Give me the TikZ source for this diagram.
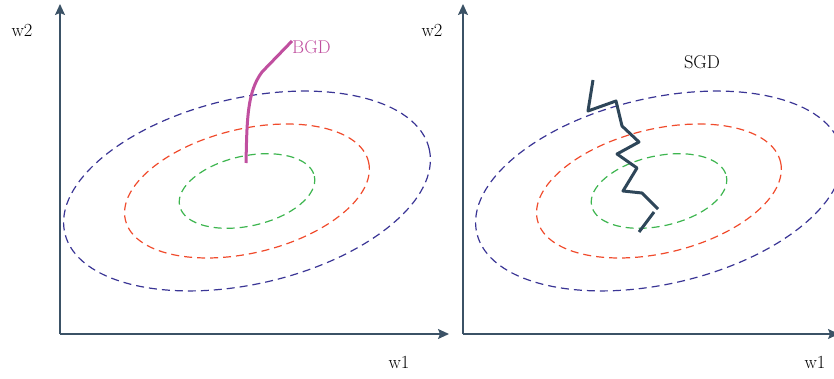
\documentclass[tikz,border=0pt]{standalone}
\usepackage{xcolor}
\usepackage{tikz}
\usetikzlibrary{arrows.meta,positioning}
\definecolor{gdaxis}{HTML}{3B5266}
\definecolor{gdpath}{HTML}{2E4659}
\definecolor{gdblue}{HTML}{3A3595}
\definecolor{gdred}{HTML}{F04B2C}
\definecolor{gdgreen}{HTML}{3DB54F}
\definecolor{gdmagenta}{HTML}{C04F9F}
\tikzstyle{axis} = [-{Stealth[length=11pt,width=10pt,inset=2pt]}, line width=1.4pt, gdaxis]
\tikzstyle{contour} = [dash pattern=on 8pt off 5pt, line width=1.2pt]
\tikzstyle{lbl} = [font=\fontsize{18.5}{20}\selectfont, inner sep=0pt]

\begin{document}
\begin{tikzpicture}[x=1pt,y=-1pt]
\useasboundingbox (0,0) rectangle (834,379);
\clip (0,0) rectangle (834,379);

% axes and level sets of both panels
\foreach \ox/\cx/\xend/\name in {60/247/449/bgd,463/659/839/sgd}{
  \coordinate (\name-o) at (\ox,334);
  \coordinate (\name-c) at (\cx,191);
  \draw[axis] (\name-o) -- (\ox,4);
  \draw[axis] (\name-o) -- (\xend,334);
  \draw[contour, gdblue, rotate around={13:(\name-c)}] (\name-c) ellipse (187 and 93);
  \draw[contour, gdred, rotate around={13.5:(\name-c)}] (\name-c) ellipse (125 and 62);
  \draw[contour, gdgreen, rotate around={12.5:(\name-c)}] (\name-c) ellipse (69 and 35);
}

\node[lbl] (w2a) at (22,30) {w2};
\node[lbl] (w1a) at (399,362) {w1};
\node[lbl] (w2b) at (432,30) {w2};
\node[lbl] (w1b) at (815,362) {w1};

% batch gradient descent
\node[lbl, text=gdmagenta, anchor=west] (bgd) at (292,47) {BGD};
\draw[line width=3pt, gdmagenta] (246,163) .. controls (247,120) and (247,92) .. (262,72) -- (bgd.west |- 0,41);

% stochastic gradient descent
\node[lbl] (sgd) at (702,62) {SGD};
\draw[line width=3pt, gdpath, line join=round] (593,80) -- (588,111) -- (616,101) -- (622,126)
  -- (639,142) -- (617,154) -- (637,168) -- (623,191) -- (642,193) -- (658,209);
\draw[line width=3pt, gdpath] (654,212) -- (639,232);
\end{tikzpicture}
\end{document}
